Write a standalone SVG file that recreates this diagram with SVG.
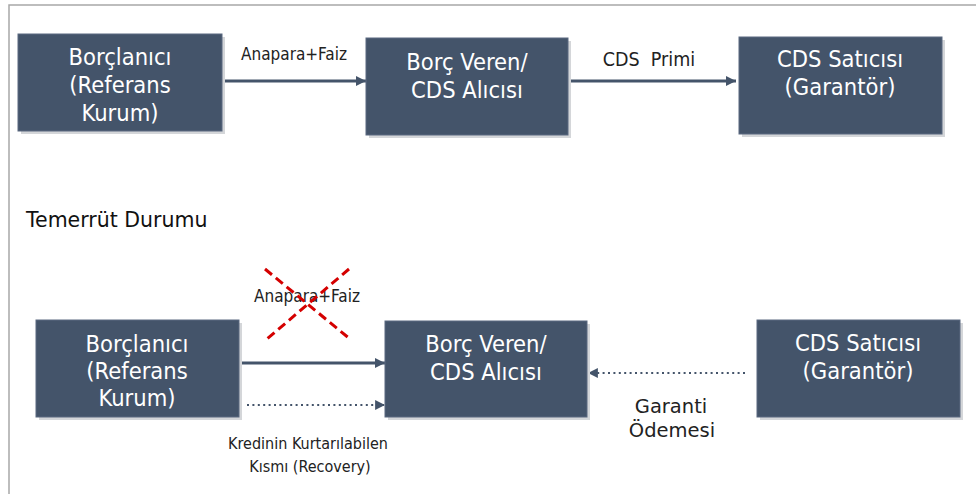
<svg xmlns="http://www.w3.org/2000/svg" width="976" height="495" viewBox="0 0 976 495">
  <style>
    .box { fill: #44546a; stroke: #5a6980; stroke-width: 1; }
    .shadow { fill: #d4d6d9; }
    .btxt { font-family: "DejaVu Sans Condensed", "DejaVu Sans", sans-serif; font-stretch: condensed; font-size: 23.5px; fill: #ffffff; text-anchor: middle; }
    .lbl { font-family: "DejaVu Sans Condensed", "DejaVu Sans", sans-serif; font-stretch: condensed; fill: #222222; text-anchor: middle; }
    .wide { font-family: "DejaVu Sans", sans-serif; fill: #222222; text-anchor: middle; }
    .conn { stroke: #44546a; stroke-width: 3; fill: none; }
    .dot { stroke: #44546a; stroke-width: 2.2; fill: none; stroke-dasharray: 2 3.4; }
    .cross { stroke: #d40000; stroke-width: 3; stroke-dasharray: 9 5; fill: none; }
  </style>
  <defs>
    <marker id="head" viewBox="0 0 10 10" refX="10" refY="5" markerWidth="3.4" markerHeight="3.4" markerUnits="strokeWidth" orient="auto">
      <path d="M0,0 L10,5 L0,10 z" fill="#44546a"/>
    </marker>
    <marker id="headDot" viewBox="0 0 10 10" refX="10" refY="5" markerWidth="4.5" markerHeight="4.5" markerUnits="strokeWidth" orient="auto">
      <path d="M0,0 L10,5 L0,10 z" fill="#44546a"/>
    </marker>
  </defs>

  <rect width="976" height="495" fill="#ffffff"/>
  <!-- frame -->
  <path d="M9,494 L9,5 L976,5" fill="none" stroke="#a8a8a8" stroke-width="1.5"/>

  <!-- connectors -->
  <g id="connectors">
    <line class="conn" x1="222" y1="81" x2="366" y2="81" marker-end="url(#head)"/>
    <line class="conn" x1="568" y1="81" x2="736" y2="81" marker-end="url(#head)"/>
    <line class="conn" x1="242" y1="363" x2="385" y2="363" marker-end="url(#head)"/>
    <line class="dot" x1="247" y1="405" x2="385" y2="405" marker-end="url(#headDot)"/>
    <line class="dot" x1="745" y1="373" x2="588" y2="373" marker-end="url(#headDot)"/>
    <text class="lbl" x="294" y="60" font-size="17">Anapara+Faiz</text>
    <text class="lbl" x="649" y="66" font-size="19.5" xml:space="preserve">CDS  Primi</text>
    <text class="lbl" x="307" y="302" font-size="17">Anapara+Faiz</text>
    <g id="cancel-mark">
      <line class="cross" x1="265" y1="269" x2="350" y2="339"/>
      <line class="cross" x1="349" y1="269" x2="267" y2="339"/>
    </g>
    <text class="lbl" x="308" y="449" font-size="16">Kredinin Kurtarılabilen</text>
    <text class="lbl" x="310" y="472" font-size="16">Kısmı (Recovery)</text>
    <text class="wide" x="671" y="413" font-size="19.5">Garanti</text>
    <text class="wide" x="672" y="437" font-size="19.5">Ödemesi</text>
  </g>

  <text x="26" y="227" font-family="DejaVu Sans, sans-serif" font-size="20.5" fill="#111111">Temerrüt Durumu</text>

  <!-- top row -->
  <g id="borclanici-1">
    <rect class="shadow" x="21" y="37" width="204" height="97"/>
    <rect class="box" x="18" y="34" width="204" height="97"/>
    <text class="btxt" x="120" y="65">Borçlanıcı</text>
    <text class="btxt" x="120" y="93">(Referans</text>
    <text class="btxt" x="120" y="121">Kurum)</text>
  </g>
  <g id="borc-veren-1">
    <rect class="shadow" x="369" y="41" width="202" height="97"/>
    <rect class="box" x="366" y="38" width="202" height="97"/>
    <text class="btxt" x="467" y="70">Borç Veren/</text>
    <text class="btxt" x="467" y="98">CDS Alıcısı</text>
  </g>
  <g id="cds-satici-1">
    <rect class="shadow" x="742" y="40" width="203" height="97"/>
    <rect class="box" x="739" y="37" width="203" height="97"/>
    <text class="btxt" x="840" y="67">CDS Satıcısı</text>
    <text class="btxt" x="840" y="95">(Garantör)</text>
  </g>

  <!-- default case row -->
  <g id="borclanici-2">
    <rect class="shadow" x="39" y="323" width="203" height="97"/>
    <rect class="box" x="36" y="320" width="203" height="97"/>
    <text class="btxt" x="137" y="352">Borçlanıcı</text>
    <text class="btxt" x="137" y="379">(Referans</text>
    <text class="btxt" x="137" y="406">Kurum)</text>
  </g>
  <g id="borc-veren-2">
    <rect class="shadow" x="388" y="324" width="202" height="96"/>
    <rect class="box" x="385" y="321" width="202" height="96"/>
    <text class="btxt" x="486" y="352">Borç Veren/</text>
    <text class="btxt" x="486" y="380">CDS Alıcısı</text>
  </g>
  <g id="cds-satici-2">
    <rect class="shadow" x="760" y="323" width="203" height="97"/>
    <rect class="box" x="757" y="320" width="203" height="97"/>
    <text class="btxt" x="858" y="351">CDS Satıcısı</text>
    <text class="btxt" x="858" y="379">(Garantör)</text>
  </g>
</svg>
